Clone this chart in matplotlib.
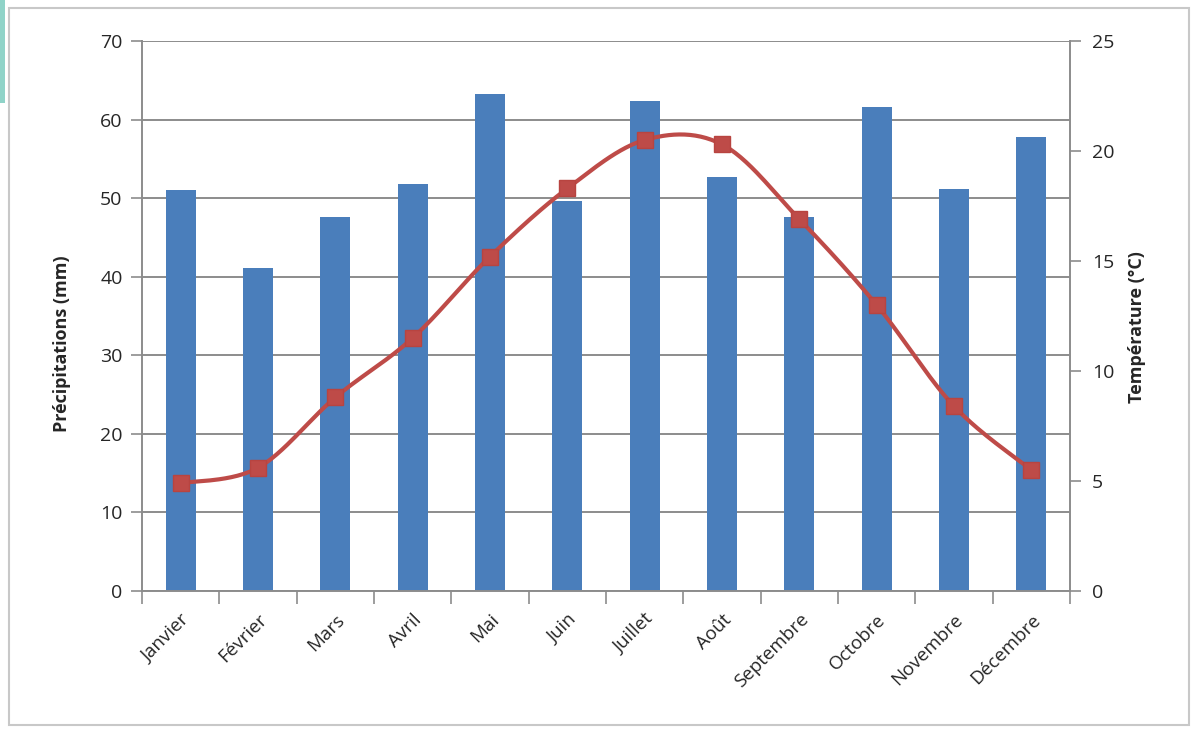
import numpy as np
import matplotlib
matplotlib.use("Agg")
import matplotlib.pyplot as plt
from matplotlib.patches import Rectangle

plt.rcParams["font.family"] = ["Open Sans", "DejaVu Sans"]

# Data
months = ["Janvier", "Février", "Mars", "Avril", "Mai", "Juin",
          "Juillet", "Août", "Septembre", "Octobre", "Novembre", "Décembre"]
precip_mm = [51.0, 41.1, 47.6, 51.8, 63.3, 49.6, 62.4, 52.7, 47.6, 61.6, 51.2, 57.8]
temp_c = [4.9, 5.6, 8.8, 11.5, 15.2, 18.3, 20.5, 20.3, 16.9, 13.0, 8.4, 5.5]

BLUE = "#4A7EBB"
RED = "#BE4B48"
GRID = "#8C8C8C"
INK = "#262626"


def smooth_curve(x, y, steps=30):
    # Excel-like smoothed line: Catmull-Rom through the points
    x = np.asarray(x, float)
    y = np.asarray(y, float)
    px = np.concatenate([[x[0]], x, [x[-1]]])
    py = np.concatenate([[y[0]], y, [y[-1]]])
    xs, ys = [], []
    t = np.linspace(0, 1, steps)
    for i in range(1, len(px) - 2):
        p0, p1, p2, p3 = (np.array([px[j], py[j]]) for j in (i - 1, i, i + 1, i + 2))
        c1 = p1 + (p2 - p0) / 6
        c2 = p2 - (p3 - p1) / 6
        b = ((1 - t) ** 3)[:, None] * p1 + (3 * (1 - t) ** 2 * t)[:, None] * c1 \
            + (3 * (1 - t) * t ** 2)[:, None] * c2 + (t ** 3)[:, None] * p2
        xs.append(b[:, 0])
        ys.append(b[:, 1])
    return np.concatenate(xs), np.concatenate(ys)


fig = plt.figure(figsize=(11.95, 7.33), dpi=100)
fig.patches.append(Rectangle((9 / 1195, 8 / 733), 1180 / 1195, 717 / 733,
                             transform=fig.transFigure, fill=False,
                             edgecolor="#C8C8C8", linewidth=1.5))
fig.patches.append(Rectangle((0, 0.86), 5 / 1195, 0.14, transform=fig.transFigure,
                             facecolor="#8FD3C8", edgecolor="none"))

ax = fig.add_axes([142 / 1195, 1 - 591 / 733, 928 / 1195, 550 / 733])
x = np.arange(len(months))
ax.bar(x, precip_mm, width=0.39, color=BLUE, zorder=2)
ax.set_xlim(-0.5, len(months) - 0.5)
ax.set_ylim(0, 70)
ax.set_yticks(np.arange(0, 71, 10))
ax.yaxis.grid(True, color=GRID, linewidth=1.4, zorder=0)
ax.set_axisbelow(True)

for s in ("top", "right"):
    ax.spines[s].set_visible(False)
for s in ("left", "bottom"):
    ax.spines[s].set_color(GRID)
    ax.spines[s].set_linewidth(1.4)

ax.set_xticks(np.arange(-0.5, len(months), 1.0))
ax.set_xticklabels([])
ax.set_xticks(x, minor=True)
ax.set_xticklabels(months, minor=True, rotation=45, ha="right",
                   rotation_mode="anchor", fontsize=13.5, color=INK)
ax.tick_params(axis="x", which="major", length=9, color=GRID, width=1.2)
ax.tick_params(axis="x", which="minor", length=0, pad=14)
ax.tick_params(axis="y", length=8, color=GRID, width=1.2, labelsize=14,
               labelcolor=INK, pad=6)
ax.set_ylabel("Précipitations (mm)", fontsize=13, fontweight="bold",
              color=INK)
ax.yaxis.set_label_coords(-0.077, 0.45)

ax2 = ax.twinx()
ax2.set_ylim(0, 25)
ax2.set_yticks(np.arange(0, 26, 5))
for s in ("top", "left", "bottom"):
    ax2.spines[s].set_visible(False)
ax2.spines["right"].set_color(GRID)
ax2.spines["right"].set_linewidth(1.4)
ax2.tick_params(axis="y", length=8, color=GRID, width=1.2, labelsize=14,
                labelcolor=INK, pad=8)
ax2.set_ylabel("Température (°C)", fontsize=13, fontweight="bold",
               color=INK, rotation=90)
ax2.yaxis.set_label_coords(1.063, 0.48)

sx, sy = smooth_curve(x, temp_c)
ax2.plot(sx, sy, color=RED, linewidth=3, zorder=3)
ax2.plot(x, temp_c, linestyle="none", marker="s", markersize=11.5,
         color=RED, markeredgecolor="#B84440", zorder=4)

fig.savefig("out.png", dpi=100)
